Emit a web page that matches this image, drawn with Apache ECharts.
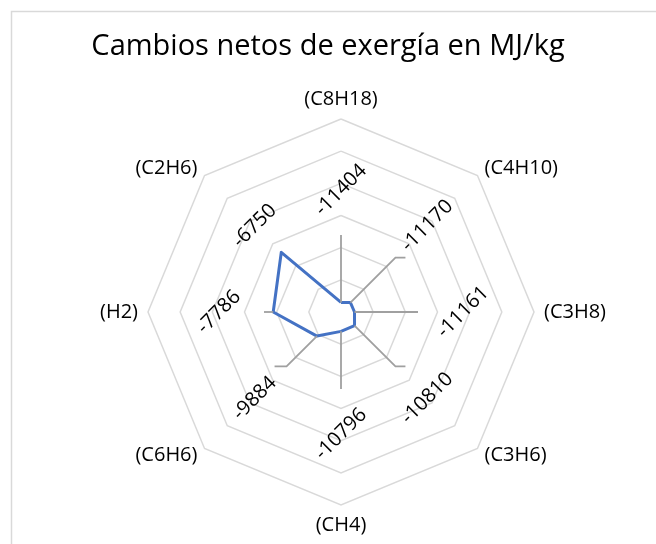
<!DOCTYPE html>
<html>
<head>
<meta charset="utf-8">
<title>Cambios netos de exergía</title>
<script src="https://cdn.jsdelivr.net/npm/echarts@6/dist/echarts.min.js"></script>
<style>
    html, body { margin: 0; padding: 0; background: #fff; }
    #chart { width: 656px; height: 544px; }
</style>
</head>
<body>
<div id="chart"></div>
<script>
    // datos (orden de Excel, sentido horario desde arriba)
    var categorias = ['(C8H18)', '(C4H10)', '(C3H8)', '(C3H6)', '(CH4)', '(C6H6)', '(H2)', '(C2H6)'];
    var valores = [-11404, -11170, -11161, -10810, -10796, -9884, -7786, -6750];
    var ejeMin = -12000;
    var ejeMax = 0;

    var fuente = '"Open Sans", sans-serif';
    var centro = [341, 312];
    var radio = 193;

    // el radar de echarts va en sentido antihorario, se invierte el orden
    function ordenRadar(arr) {
        return [arr[0]].concat(arr.slice(1).reverse());
    }

    var indicadores = ordenRadar(categorias).map(function (c) {
        return {name: c, min: ejeMin, max: ejeMax};
    });

    var datosEtiquetas = valores.map(function (v, i) {
        return [v, i];
    });

    // etiquetas giradas y lineas guia
    function dibujarEtiqueta(params, api) {
        var v = api.value(0);
        var i = api.value(1);
        var p = api.coord([v, i]);
        var c = api.coord([ejeMin, i]);
        var ang = Math.PI / 2 - i * Math.PI / 4;
        var dx = Math.cos(ang), dy = -Math.sin(ang);
        var rEtq = 122, rFin = rEtq - 45;
        var lx = c[0] + dx * rEtq, ly = c[1] + dy * rEtq;
        var ex = c[0] + dx * rFin, ey = c[1] + dy * rFin;
        var rDato = Math.sqrt((p[0] - c[0]) * (p[0] - c[0]) + (p[1] - c[1]) * (p[1] - c[1]));
        var hijos = [];
        if (rDato < rFin - 4) {
            var pts = [p, [ex, ey]];
            if (Math.abs(dx) > 0.3 && Math.abs(dy) > 0.3) {
                pts.push([ex + (dx > 0 ? 10 : -12), ey]);
            }
            hijos.push({
                type: 'polyline',
                shape: {points: pts},
                style: {stroke: '#a0a0a0', lineWidth: 1.8, fill: null}
            });
        }
        hijos.push({
            type: 'text',
            x: lx,
            y: ly,
            rotation: Math.PI / 4,
            style: {
                text: String(v),
                align: 'center',
                verticalAlign: 'middle',
                fill: '#000',
                fontSize: 20,
                fontFamily: fuente
            }
        });
        return {type: 'group', children: hijos};
    }

    var chart = echarts.init(document.getElementById('chart'));

    chart.setOption({
        animation: false,
        backgroundColor: '#fff',
        title: {
            text: 'Cambios netos de exergía en MJ/kg',
            left: 'center',
            top: 27,
            textStyle: {fontFamily: fuente, fontSize: 29, fontWeight: 'normal', color: '#000'}
        },
        graphic: [{
            type: 'rect',
            left: 9,
            top: 9,
            shape: {width: 700, height: 600},
            style: {fill: null, stroke: '#d9d9d9', lineWidth: 1.5},
            silent: true
        }],
        radar: {
            center: centro,
            radius: radio,
            startAngle: 90,
            splitNumber: 6,
            shape: 'polygon',
            indicator: indicadores,
            nameGap: 10,
            axisName: {color: '#000', fontSize: 20, fontFamily: fuente},
            axisLine: {show: false},
            axisTick: {show: false},
            axisLabel: {show: false},
            splitArea: {show: false},
            splitLine: {lineStyle: {color: '#d9d9d9', width: 1.5}}
        },
        polar: {
            center: centro,
            radius: radio
        },
        angleAxis: {
            type: 'category',
            data: categorias,
            startAngle: 90,
            clockwise: true,
            boundaryGap: false,
            show: false
        },
        radiusAxis: {
            type: 'value',
            min: ejeMin,
            max: ejeMax,
            show: false
        },
        series: [
            {
                type: 'radar',
                symbol: 'none',
                silent: true,
                lineStyle: {color: '#4472c4', width: 3},
                data: [{value: ordenRadar(valores), name: 'Cambios netos'}]
            },
            {
                type: 'custom',
                coordinateSystem: 'polar',
                silent: true,
                renderItem: dibujarEtiqueta,
                data: datosEtiquetas
            }
        ]
    });
</script>
</body>
</html>
